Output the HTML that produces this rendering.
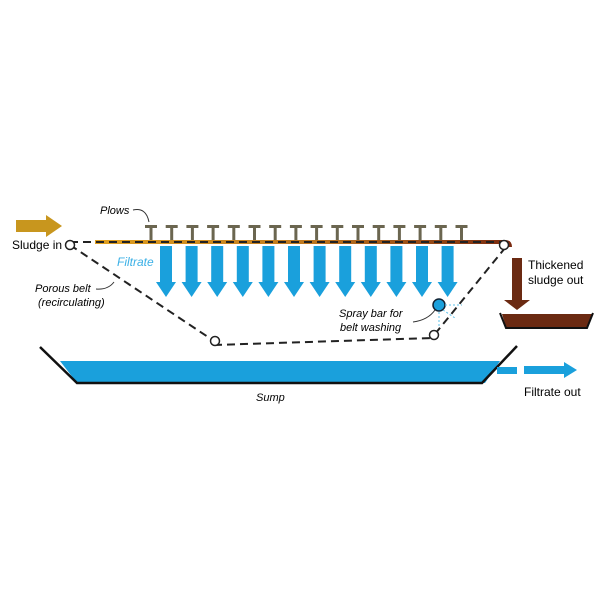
<!DOCTYPE html>
<html><head><style>body{margin:0;background:#fff}svg{display:block}</style></head><body>
<svg width="600" height="600" viewBox="0 0 600 600" xmlns="http://www.w3.org/2000/svg" font-family="Liberation Sans, sans-serif">
<!-- sludge in arrow -->
<polygon points="16,220 46,220 46,215 62,226 46,237 46,232 16,232" fill="#c8961e"/>
<text x="12" y="249" font-size="12">Sludge in</text>
<!-- sludge layer on belt -->
<defs><linearGradient id="g" x1="0" x2="1"><stop offset="0" stop-color="#e0a020"/><stop offset="0.5" stop-color="#c07a20"/><stop offset="1" stop-color="#7a2a10"/></linearGradient></defs>
<path d="M95,240 L505,240 Q512,240 512,247 L508,247 Q508,244 503,244 L95,244 Z" fill="url(#g)"/>
<!-- belt -->
<g stroke="#222" stroke-width="2" stroke-dasharray="8,5" fill="none">
<line x1="70" y1="242" x2="505" y2="242"/>
<line x1="70" y1="245" x2="214" y2="341"/>
<line x1="214" y1="345" x2="433" y2="338"/>
<line x1="435" y1="334" x2="505" y2="248"/>
</g>
<g fill="#fff" stroke="#222" stroke-width="1.5">
<circle cx="70" cy="245" r="4.5"/><circle cx="215" cy="341" r="4.5"/><circle cx="434" cy="335" r="4.5"/><circle cx="504" cy="245" r="4.5"/>
</g>
<circle cx="439" cy="305" r="6" fill="#1aa0dc" stroke="#123" stroke-width="1.5"/>
<path d="M445,305 L462,305 M443,310 L455,318 M439,312 L439,328" stroke="#5bc0e8" stroke-width="1" stroke-dasharray="2,2"/>
<!-- plows -->
<g fill="#6b6650" id="plows"></g>
<g fill="#1aa0dc" id="arrows"></g>
<text x="100" y="214" font-size="11" font-style="italic">Plows</text>
<path d="M133,210 Q146,207 149,222" stroke="#333" fill="none"/>
<text x="117" y="266" font-size="12" font-style="italic" fill="#3bb0e6">Filtrate</text>
<text x="35" y="292" font-size="11" font-style="italic">Porous belt</text>
<text x="38" y="306" font-size="11" font-style="italic">(recirculating)</text>
<path d="M96,289 Q108,290 114,282" stroke="#333" fill="none"/>
<text x="339" y="317" font-size="11" font-style="italic">Spray bar for</text>
<text x="340" y="331" font-size="11" font-style="italic">belt washing</text>
<path d="M413,322 Q428,320 435,310" stroke="#333" fill="none"/>
<!-- thickened -->
<polygon points="512,258 522,258 522,300 530,300 517,310 504,300 512,300" fill="#6b2a12"/>
<text x="528" y="269" font-size="12">Thickened</text>
<text x="528" y="284" font-size="12">sludge out</text>
<polygon points="502,314 592,314 587,327 506,327" fill="#6b2a12"/>
<path d="M500,313 L506,328 L587,328 L593,313" stroke="#111" stroke-width="2" fill="none"/>
<!-- sump -->
<polygon points="60,361 500,361 485,383 77,383" fill="#1aa0dc"/>
<path d="M40,347 L77,383 L482,383 L517,346" stroke="#111" stroke-width="2.5" fill="none"/>
<rect x="497" y="367" width="20" height="7" fill="#1aa0dc"/>
<polygon points="524,366 564,366 564,362 577,370 564,378 564,374 524,374" fill="#1aa0dc"/>
<text x="256" y="401" font-size="11" font-style="italic">Sump</text>
<text x="524" y="396" font-size="12">Filtrate out</text>
</svg>
<script>
var ns="http://www.w3.org/2000/svg",p=document.getElementById('plows'),a=document.getElementById('arrows');
for(var i=0;i<16;i++){var x=151+i*20.7;var r=document.createElementNS(ns,'path');r.setAttribute('d','M'+(x-6)+',225h12v3h-4.5v12h-3v-12h-4.5z');p.appendChild(r);}
for(var j=0;j<12;j++){var c=166+j*25.6;var q=document.createElementNS(ns,'polygon');q.setAttribute('points',(c-6)+',246 '+(c+6)+',246 '+(c+6)+',282 '+(c+10)+',282 '+c+',297 '+(c-10)+',282 '+(c-6)+',282');a.appendChild(q);}
</script>
</body></html>
